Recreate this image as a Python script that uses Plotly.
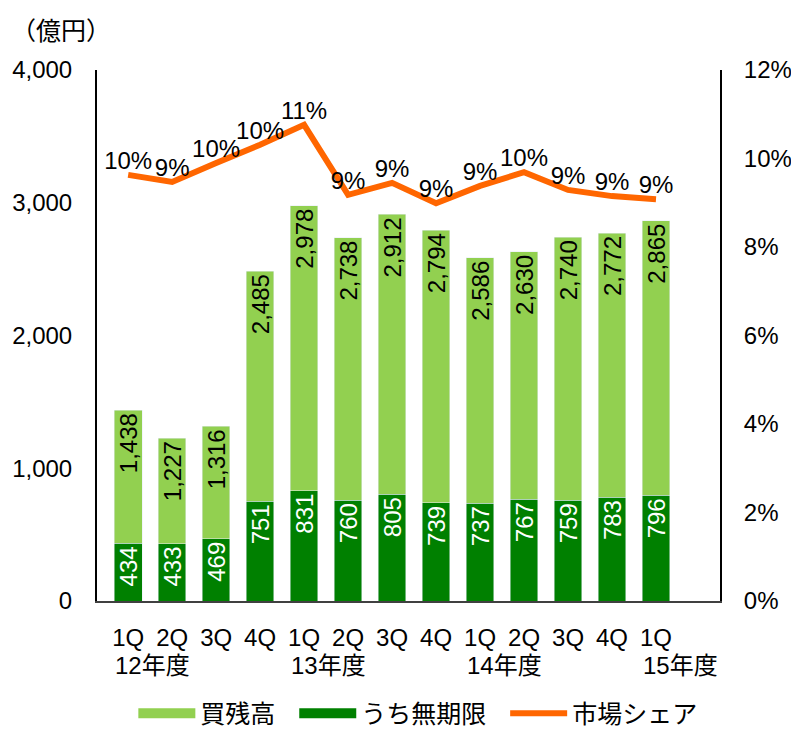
import plotly.graph_objects as go

quarters = ["1Q", "2Q", "3Q", "4Q", "1Q", "2Q", "3Q", "4Q", "1Q", "2Q", "3Q", "4Q", "1Q"]
fiscal_years = ["12年度", "", "", "", "13年度", "", "", "", "14年度", "", "", "", "15年度"]
categories = ["12-1Q", "12-2Q", "12-3Q", "12-4Q", "13-1Q", "13-2Q", "13-3Q", "13-4Q",
              "14-1Q", "14-2Q", "14-3Q", "14-4Q", "15-1Q"]
total_balance = [1438, 1227, 1316, 2485, 2978, 2738, 2912, 2794, 2586, 2630, 2740, 2772, 2865]
unlimited = [434, 433, 469, 751, 831, 760, 805, 739, 737, 767, 759, 783, 796]
market_share = [9.63, 9.47, 9.90, 10.31, 10.76, 9.18, 9.45, 8.99, 9.38, 9.69, 9.29, 9.15, 9.08]

FONT = "Liberation Sans, Arial, Noto Sans CJK JP, sans-serif"
JP_FONT = "Liberation Sans, Noto Sans CJK JP, sans-serif"
LIGHT = "#92D050"
DARK = "#008000"
ORANGE = "#FF6600"
PAD = "\u00a0\u00a0"

rest = [t - u for t, u in zip(total_balance, unlimited)]

fig = go.Figure()
fig.add_trace(go.Bar(
    x=categories, y=unlimited, name="うち無期限", marker_color=DARK,
    text=[f"{v:,}" for v in unlimited], textposition="inside", insidetextanchor="end",
    textangle=-90, textfont=dict(color="white", size=24, family=FONT),
    showlegend=False, hoverinfo="skip",
))
fig.add_trace(go.Bar(
    x=categories, y=rest, name="買残高", marker_color=LIGHT,
    text=[f"{v:,}" for v in total_balance], textposition="inside", insidetextanchor="end",
    textangle=-90, textfont=dict(color="black", size=24, family=FONT),
    showlegend=False, hoverinfo="skip",
))
fig.add_trace(go.Scatter(
    x=categories, y=market_share, name="市場シェア", yaxis="y2", mode="lines+text",
    line=dict(color=ORANGE, width=6), text=[f"{round(v):d}%" for v in market_share],
    textposition="top center", textfont=dict(color="black", size=24, family=FONT),
    legendrank=3, cliponaxis=False, hoverinfo="skip",
))
# legend entries for the bars, drawn as wide swatches
fig.add_trace(go.Scatter(
    x=[categories[0]], y=[None], name="買残高" + PAD, mode="lines",
    line=dict(color=LIGHT, width=15), legendrank=1, hoverinfo="skip",
))
fig.add_trace(go.Scatter(
    x=[categories[0]], y=[None], name="うち無期限" + PAD, mode="lines",
    line=dict(color=DARK, width=15), legendrank=2, hoverinfo="skip",
))

annotations = []
for c, fy in zip(categories, fiscal_years):
    if fy:
        annotations.append(dict(
            x=c, xref="x", y=-0.122, yref="paper", text=fy, showarrow=False,
            xanchor="left", yanchor="middle", xshift=-15,
            font=dict(size=24, family=JP_FONT, color="black"),
        ))
annotations.append(dict(
    x=-0.141, xref="paper", y=1.114, yref="paper", text="（億円）", showarrow=False,
    xanchor="left", yanchor="top", font=dict(size=25, family="Noto Sans CJK JP", color="black"),
))

# the page adds an 8px body margin, so the figure is drawn 8px in from the top-left
fig.update_layout(
    width=791, height=725,
    margin=dict(l=89, r=79, t=62, b=132, autoexpand=False),
    paper_bgcolor="white", plot_bgcolor="white",
    barmode="stack", bargap=0.37,
    font=dict(family=FONT, size=24, color="black"),
    uniformtext=dict(minsize=24, mode="show"),
    showlegend=True,
    legend=dict(orientation="h", x=0.515, xanchor="center", y=-0.212, yanchor="middle",
                font=dict(size=25, family=JP_FONT), traceorder="normal", itemwidth=57,
                tracegroupgap=0),
    xaxis=dict(
        tickmode="array", tickvals=categories, ticktext=quarters,
        showline=True, linecolor="#404040", linewidth=2, ticks="",
        ticklabelstandoff=14, showgrid=False, zeroline=False,
        tickfont=dict(size=24, family=FONT),
    ),
    yaxis=dict(
        range=[0, 4000], dtick=1000, tickformat=",", showline=True, linecolor="black",
        linewidth=2, ticks="", ticklabelstandoff=18, showgrid=False, zeroline=False,
        tickfont=dict(size=24, family=FONT),
    ),
    yaxis2=dict(
        range=[0, 12], dtick=2, ticksuffix="%", overlaying="y", side="right",
        showline=True, linecolor="black", linewidth=2, ticks="", ticklabelstandoff=17,
        showgrid=False, zeroline=False, tickfont=dict(size=24, family=FONT),
    ),
    annotations=annotations,
)

fig.write_html("out.html")
